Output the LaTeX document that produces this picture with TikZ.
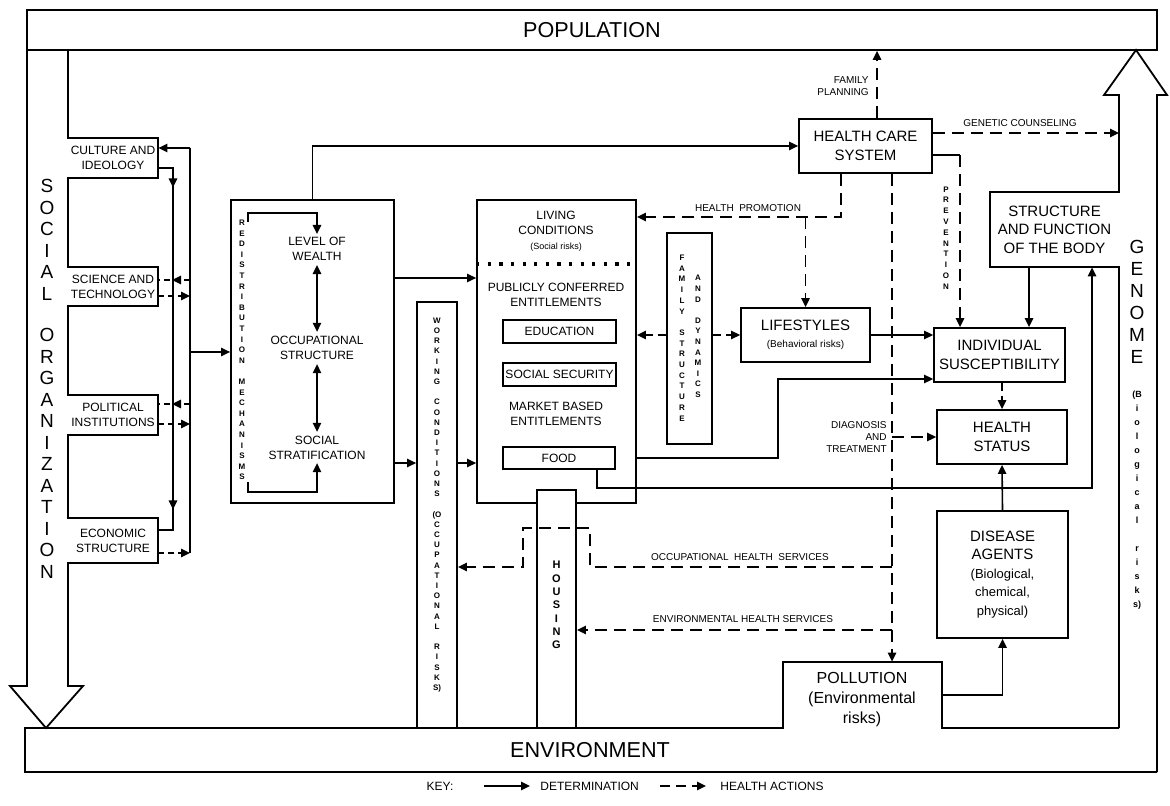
\documentclass[tikz,border=0pt]{standalone}
\usepackage{fontspec}
\setmainfont{Liberation Sans}
\usetikzlibrary{arrows.meta, positioning, decorations.markings}

\newcommand{\bigfont}{\fontsize{10.8}{12}\selectfont}
\newcommand{\boxfont}{\fontsize{7.5}{9.3}\selectfont}
\newcommand{\midfont}{\fontsize{6}{7.5}\selectfont}
\newcommand{\labfont}{\fontsize{5}{6}\selectfont}
\newcommand{\tinyfont}{\fontsize{4.5}{5.5}\selectfont}

\begin{document}
\begin{tikzpicture}[x=0.5pt, y=-0.5pt,
        >={Triangle[length=4.5pt,width=4.2pt]},
        frame/.style={line width=0.9pt},
        box/.style={draw, line width=0.9pt, align=center, inner sep=0pt},
        txt/.style={align=center, inner sep=0pt},
        det/.style={line width=0.8pt, ->},
        act/.style={det, dash pattern=on 6pt off 3.5pt},
        midtip/.style={line width=0.8pt, dash pattern=on 3pt off 2pt,
            postaction={decorate},
            decoration={markings, mark=at position 9pt with {\arrow{>}}}}]
    \useasboundingbox (0,0) rectangle (1170,806);

    % outer frame
    \node[box, minimum width=565pt, minimum height=20pt, font=\bigfont] at (592, 30) (pop) {POPULATION};
    \draw[frame] (27,50) -- (27,686) -- (10,686) -- (46,728) -- (83,686) -- (68,686)
        -- (68,563) -- (158,563) -- (158,518) -- (68,518) -- (68,435) -- (158,435)
        -- (158,395) -- (68,395) -- (68,306) -- (158,306) -- (158,267) -- (68,267)
        -- (68,178) -- (158,178) -- (158,138) -- (68,138) -- (68,50);
    \draw[frame] (1119,728) -- (1119,267) -- (990,267) -- (990,192) -- (1119,192)
        -- (1119,95) -- (1104,95) -- (1136,50) -- (1167,95) -- (1157,95) -- (1157,772);
    \draw[frame] (1157,772) -- (25,772) -- (25,728) -- (783,728) -- (783,662)
        -- (942,662) -- (942,728) -- (1119,728);
    \node[txt, font=\bigfont] at (590, 750) (env) {ENVIRONMENT};

    \node[txt, font=\fontsize{9.5}{10.75}\selectfont] at (47, 379) (socorg)
        {S\\O\\C\\I\\A\\L\\[10pt]O\\R\\G\\A\\N\\I\\Z\\A\\T\\I\\O\\N};
    \node[txt, font=\fontsize{9.5}{11}\selectfont] at (1137, 302) (genome) {G\\E\\N\\O\\M\\E};
    \node[txt, font=\fontsize{4.5}{7}\selectfont\bfseries] at (1137, 500) (biorisk)
        {(B\\i\\o\\l\\o\\g\\i\\c\\a\\l\\[7pt]r\\i\\s\\k\\s)};

    % social organization
    \node[txt, minimum width=45pt, minimum height=20pt, font=\midfont] at (113, 158) (cult) {CULTURE AND\\IDEOLOGY};
    \node[txt, minimum width=45pt, minimum height=19.5pt, font=\midfont] at (113, 286.5) (sci) {SCIENCE AND\\TECHNOLOGY};
    \node[txt, minimum width=45pt, minimum height=20pt, font=\midfont] at (113, 415) (polit) {POLITICAL\\INSTITUTIONS};
    \node[txt, minimum width=45pt, minimum height=22.5pt, font=\midfont] at (113, 540.5) (econ) {ECONOMIC\\STRUCTURE};

    \draw[line width=0.8pt] (190,148) -- (190,553);
    \draw[det] (190,148) -- (cult.east |- 0,148);
    \draw[midtip] (190,280) -- (sci.east |- 0,280);
    \draw[act, dash pattern=on 3pt off 2pt] (sci.east |- 0,296) -- (190,296);
    \draw[midtip] (190,404) -- (polit.east |- 0,404);
    \draw[act, dash pattern=on 3pt off 2pt] (polit.east |- 0,424) -- (190,424);
    \draw[act, dash pattern=on 3pt off 2pt] (econ.east |- 0,553) -- (190,553);
    \draw[line width=0.8pt, postaction={decorate},
        decoration={markings, mark=at position 17pt with {\arrow{>}},
            mark=at position 178pt with {\arrow{>}}}]
        (cult.east |- 0,168) -| (173,530) -- (econ.east |- 0,530);

    % social structure
    \node[box, minimum width=81.5pt, minimum height=151.5pt] at (312.5, 351.5) (red) {};
    \node[txt, font=\midfont] at (317, 249) (wealth) {LEVEL OF\\WEALTH};
    \node[txt, font=\midfont] at (317, 348) (occ) {OCCUPATIONAL\\STRUCTURE};
    \node[txt, font=\midfont] at (317, 448) (strat) {SOCIAL\\STRATIFICATION};
    \node[txt, font=\fontsize{4}{5.3}\selectfont\bfseries] at (242, 350) (redmech)
        {R\\E\\D\\I\\S\\T\\R\\I\\B\\U\\T\\I\\O\\N\\[5.3pt]M\\E\\C\\H\\A\\N\\I\\S\\M\\S};
    \draw[line width=0.8pt, <->, shorten <=2pt, shorten >=2pt] (wealth) -- (occ);
    \draw[line width=0.8pt, <->, shorten <=2pt, shorten >=2pt] (occ) -- (strat);
    \draw[det, shorten >=1.5pt] (248,222) -- (248,213) -| (wealth.north);
    \draw[det, shorten >=1.5pt] (248,482) -- (248,492) -| (strat.south);
    \draw[det] (190,352) -- (red.west |- 0,352);

    % living conditions
    \node[box, minimum width=79.5pt, minimum height=151.5pt] at (556.5, 351.5) (liv) {};
    \node[txt, font=\midfont] at (556, 231) (livtxt) {LIVING\\CONDITIONS\\{\tinyfont (Social risks)}};
    \draw[line width=1.6pt, dash pattern=on 1.6pt off 4.2pt] (liv.west |- 0,264) -- (liv.east |- 0,264);
    \node[txt, font=\midfont] at (556, 295) (pubtxt) {PUBLICLY CONFERRED\\ENTITLEMENTS};
    \node[box, minimum width=56.5pt, minimum height=11.5pt, font=\midfont] at (559.5, 331.5) (edu) {EDUCATION};
    \node[box, minimum width=56.5pt, minimum height=11.5pt, font=\midfont] at (559.5, 374.5) (socsec) {SOCIAL SECURITY};
    \node[txt, font=\midfont] at (556, 414) (mkttxt) {MARKET BASED\\ENTITLEMENTS};
    \node[box, minimum width=56pt, minimum height=11pt, font=\midfont] at (559, 458) (food) {FOOD};

    \node[box, minimum width=20pt, minimum height=213pt] at (437, 515) (wc) {};
    \node[txt, font=\fontsize{4}{5.1}\selectfont\bfseries] at (437, 505) (wctxt)
        {W\\O\\R\\K\\I\\N\\G\\[5.1pt]C\\O\\N\\D\\I\\T\\I\\O\\N\\S\\[5.1pt](O\\C\\C\\U\\P\\A\\T\\I\\O\\N\\A\\L\\[5.1pt]R\\I\\S\\K\\S)};
    \node[box, fill=white, minimum width=19.5pt, minimum height=119pt] at (556.5, 609) (house) {};
    \node[txt, font=\fontsize{5.5}{6.65}\selectfont\bfseries] at (556.5, 605) (housetxt) {H\\O\\U\\S\\I\\N\\G};

    \draw[det] (red.east |- 0,278) -- (liv.west |- 0,278);
    \draw[det] (red.east |- 0,463) -- (wc.west |- 0,463);
    \draw[det] (wc.east |- 0,463) -- (liv.west |- 0,463);

    % family and lifestyles
    \node[box, minimum width=22.5pt, minimum height=105.5pt] at (689.5, 338.5) (fam) {};
    \node[txt, font=\fontsize{4}{5.35}\selectfont\bfseries] at (682, 338) (famtxt)
        {F\\A\\M\\I\\L\\Y\\[5.35pt]S\\T\\R\\U\\C\\T\\U\\R\\E};
    \node[txt, font=\fontsize{4}{5.3}\selectfont\bfseries] at (698, 336.5) (dyntxt)
        {A\\N\\D\\[5.3pt]D\\Y\\N\\A\\M\\I\\C\\S};
    \node[box, minimum width=64.5pt, minimum height=27pt, font=\boxfont] at (805.5, 335) (life)
        {LIFESTYLES\\[-1pt]{\labfont (Behavioral risks)}};
    \draw[act, dash pattern=on 4pt off 2.5pt] (fam.west |- 0,335) -- (liv.east |- 0,335);
    \draw[act, dash pattern=on 4pt off 2.5pt] (fam.east |- 0,335) -- (life.west);

    % health care system
    \node[box, minimum width=66.5pt, minimum height=27pt, font=\boxfont] at (865.5, 146) (hcs) {HEALTH CARE\\SYSTEM};
    \draw[det] (red.north) |- (hcs.west);
    \coordinate (fpx) at ([xshift=5.75pt]hcs.north);
    \coordinate (hpx) at ([xshift=-12.25pt]hcs.south);
    \coordinate (dlx) at ([xshift=13.25pt]hcs.south);
    \coordinate (genin) at (1119,133);
    \coordinate (prevbend) at (960,155);

    % body and health
    \node[txt, minimum width=64.5pt, minimum height=37.5pt, font=\boxfont] at (1054.5, 229.5) (sfb)
        {STRUCTURE\\AND FUNCTION\\OF THE BODY};
    \node[box, minimum width=65.5pt, minimum height=27pt, font=\boxfont] at (999.5, 355) (is) {INDIVIDUAL\\SUSCEPTIBILITY};
    \node[box, minimum width=65pt, minimum height=27pt, font=\boxfont] at (1002, 437) (hs) {HEALTH\\STATUS};
    \node[box, minimum width=65.5pt, minimum height=63.5pt, font=\boxfont] at (1002.5, 574.5) (da)
        {DISEASE\\AGENTS\\{\fontsize{6.5}{9.3}\selectfont (Biological,}\\{\fontsize{6.5}{9.3}\selectfont chemical,}\\{\fontsize{6.5}{9.3}\selectfont physical)}};
    \node[txt, minimum width=79.5pt, minimum height=33pt] at (862.5, 695) (pol) {};
    \node[txt, font=\fontsize{8}{10}\selectfont] at (862, 700) (poltxt) {POLLUTION\\(Environmental\\risks)};
    \coordinate (sfbin) at ([xshift=18.75pt]sfb.south);
    \coordinate (sfbout) at ([xshift=-12.75pt]sfb.south);
    \coordinate (foodout) at ([xshift=-9.5pt]food.south east);

    % determination
    \draw[det] (life.east) -- (is.west |- life.east);
    \draw[det] (liv.east |- 0,458) -- ++(141,0) |- (is.west |- 0,379);
    \draw[det] (foodout) |- (sfbin |- 0,488) -- (sfbin);
    \draw[det] (sfbout) -- (sfbout |- is.north);
    \draw[act, dash pattern=on 4pt off 2.5pt] (is.south -| hs.north) -- (hs.north);
    \draw[det] (da.north) -- (hs.south);
    \draw[det] (pol.east) -| (da.south);

    % health actions
    \draw[act] (fpx) -- (fpx |- pop.south);
    \node[txt, font=\labfont, anchor=east, align=right] at (869, 86) (fpltxt) {FAMILY\\PLANNING};
    \draw[act] (hcs.east |- genin) -- (genin);
    \node[txt, font=\labfont] at (1020, 123) (gctxt) {GENETIC COUNSELING};
    \draw[line width=0.8pt] (hcs.east |- prevbend) -- (prevbend);
    \draw[act] (prevbend) -- (prevbend |- is.north);
    \node[txt, font=\fontsize{4}{5.4}\selectfont\bfseries] at (946, 238) (prevtxt) {P\\R\\E\\V\\E\\N\\T\\I\\O\\N};
    \draw[act] (hpx) |- (liv.east |- 0,217);
    \draw[act] (life.north |- 0,217) -- (life.north);
    \node[txt, font=\labfont] at (748, 208) (hptxt) {HEALTH\ \ PROMOTION};
    \draw[act] (dlx) -- (dlx |- pol.north);
    \draw[act] (dlx |- hs.west) -- (hs.west);
    \node[txt, font=\labfont, anchor=east, align=right] at (887, 437) (dttxt) {DIAGNOSIS\\AND\\TREATMENT};
    \draw[act] (dlx |- 0,567) -- ++(-302,0) -- ++(0,-39) -- ++(-67,0) |- (wc.east |- 0,567);
    \node[txt, font=\labfont] at (740, 557) (ohtxt) {OCCUPATIONAL\ \ HEALTH\ \ SERVICES};
    \draw[act] (dlx |- 0,630) -- (house.east |- 0,630);
    \node[txt, font=\labfont] at (743, 619) (ehtxt) {ENVIRONMENTAL HEALTH SERVICES};

    % key
    \node[txt, font=\midfont] at (440, 786) (keytxt) {KEY:};
    \coordinate (kd1) at (484,786);
    \coordinate (kd2) at (530,786);
    \coordinate (ka1) at (660,786);
    \coordinate (ka2) at (706,786);
    \draw[det] (kd1) -- (kd2);
    \node[txt, font=\midfont, right=5pt of kd2] (kdet) {DETERMINATION};
    \draw[act, dash pattern=on 5pt off 3pt] (ka1) -- (ka2);
    \node[txt, font=\midfont, right=7pt of ka2] (kact) {HEALTH ACTIONS};
\end{tikzpicture}
\end{document}
